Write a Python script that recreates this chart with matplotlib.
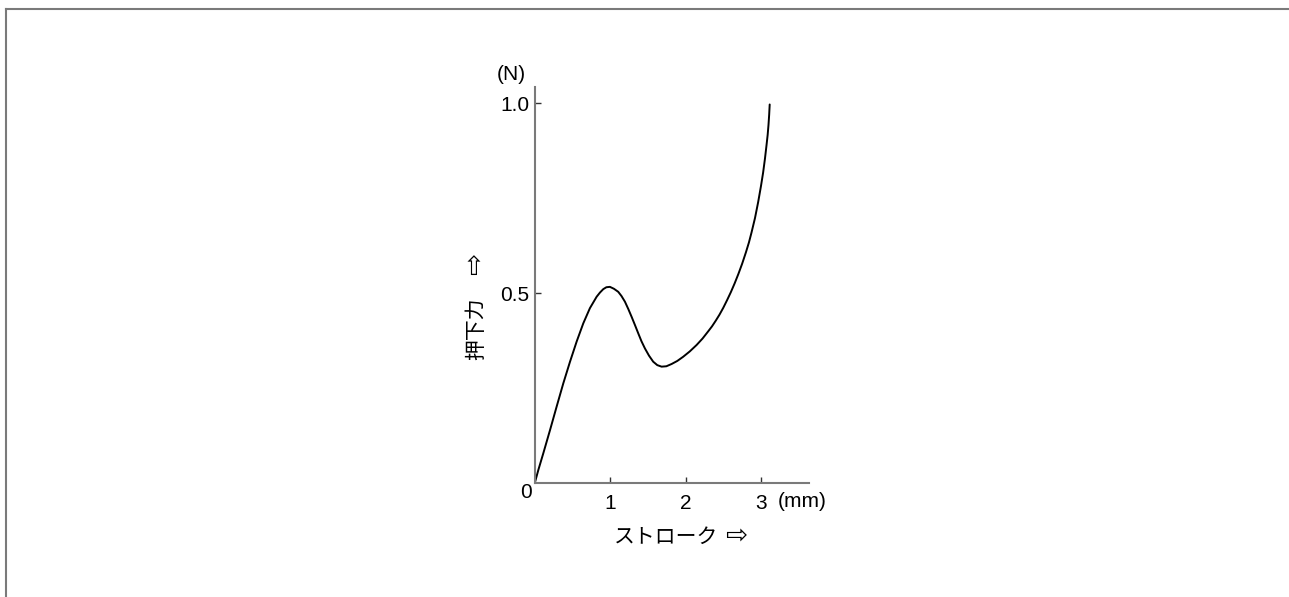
import matplotlib
matplotlib.use("Agg")
import matplotlib.pyplot as plt
from matplotlib.lines import Line2D

# Data (stroke in mm, force in N)
stroke_mm = [0.000, 0.048, 0.114, 0.203, 0.291, 0.379, 0.468, 0.556, 0.644, 0.732,
             0.821, 0.865, 0.909, 0.950, 0.997, 1.050, 1.107, 1.150, 1.196, 1.240,
             1.285, 1.330, 1.372, 1.415, 1.461, 1.515, 1.571, 1.625, 1.682, 1.745,
             1.815, 1.890, 1.968, 2.055, 2.146, 2.225, 2.300, 2.350, 2.400, 2.450,
             2.500, 2.550, 2.600, 2.650, 2.700, 2.750, 2.800, 2.840, 2.874, 2.920,
             2.962, 3.000, 3.028, 3.052, 3.073, 3.088, 3.099, 3.108, 3.115]
force_n = [0.000, 0.035, 0.079, 0.140, 0.202, 0.263, 0.320, 0.373, 0.421, 0.461,
           0.491, 0.502, 0.511, 0.516, 0.517, 0.512, 0.504, 0.493, 0.478, 0.459,
           0.438, 0.416, 0.395, 0.374, 0.355, 0.336, 0.320, 0.311, 0.307, 0.308,
           0.314, 0.322, 0.333, 0.347, 0.364, 0.381, 0.400, 0.413, 0.428, 0.444,
           0.462, 0.482, 0.503, 0.526, 0.551, 0.578, 0.608, 0.634, 0.660, 0.698,
           0.740, 0.783, 0.818, 0.854, 0.890, 0.917, 0.943, 0.970, 0.997]

xtick_vals = [1, 2, 3]
xtick_labels = ["1", "2", "3"]
ytick_vals = [0.5, 1.0]
ytick_labels = ["0.5", "1.0"]

num_font = "Liberation Sans"
jp_font = ["Noto Sans CJK JP", "DejaVu Sans"]
FS = 15

W, H = 1289, 597
fig = plt.figure(figsize=(W / 100, H / 100), dpi=100)

# page frame (top and left edges)
gray = "#7a7a7a"
fig.add_artist(Line2D([6 / W, 1.0], [1 - 9 / H, 1 - 9 / H], color=gray, lw=1.5,
                      transform=fig.transFigure))
fig.add_artist(Line2D([6 / W, 6 / W], [0.0, 1 - 9 / H], color=gray, lw=1.5,
                      transform=fig.transFigure))

ax_left, ax_right = 534.7, 809.3
ax_top, ax_bottom = 87.0, 483.3
ax = fig.add_axes([ax_left / W, 1 - ax_bottom / H,
                   (ax_right - ax_left) / W, (ax_bottom - ax_top) / H])
ax.set_xlim(0, 3.64)
ax.set_ylim(0, 1.043)

ax.plot(stroke_mm, force_n, color="black", lw=1.4, solid_capstyle="round",
        solid_joinstyle="round")

for s in ["top", "right"]:
    ax.spines[s].set_visible(False)
for s in ["left", "bottom"]:
    ax.spines[s].set_color(gray)
    ax.spines[s].set_linewidth(1.5)

ax.set_xticks(xtick_vals)
ax.set_xticklabels(xtick_labels, fontname=num_font, fontsize=FS)
ax.set_yticks(ytick_vals)
ax.set_yticklabels(ytick_labels, fontname=num_font, fontsize=FS)
ax.tick_params(axis="both", direction="in", length=4, width=1, color="#333333")
ax.tick_params(axis="x", pad=8)
ax.tick_params(axis="y", pad=4)

# origin label and units
fig.text(526 / W, 1 - 493 / H, "0", fontname=num_font, fontsize=FS,
         ha="center", va="center")
fig.text(511.7 / W, 1 - 75 / H, "(N)", fontname=num_font, fontsize=FS,
         ha="center", va="center")
fig.text(802 / W, 1 - 501.7 / H, "(mm)", fontname=num_font, fontsize=FS,
         ha="center", va="center")

# axis titles
fig.text(665.7 / W, 1 - 536.7 / H, "ストローク", family=jp_font, fontsize=FS,
         ha="center", va="center")
fig.text(736 / W, 1 - 537 / H, "\u21e8", family=["DejaVu Sans"], fontsize=19,
         ha="center", va="center")
fig.text(476 / W, 1 - 329 / H, "押下力", family=jp_font, fontsize=FS,
         ha="center", va="center", rotation=90)
fig.text(476 / W, 1 - 264 / H, "\u21e8", family=["DejaVu Sans"], fontsize=19,
         ha="center", va="center", rotation=90)

fig.savefig("out.png", dpi=100, facecolor="white")
